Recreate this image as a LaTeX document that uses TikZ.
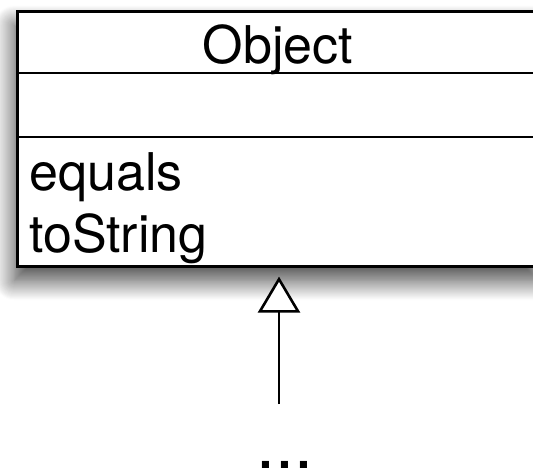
\documentclass[tikz,border=0pt]{standalone}
\usepackage{fontspec}
\setmainfont{TeX Gyre Heros}
\usetikzlibrary{arrows.meta,shadows.blur}

\tikzset{
  classbox/.style={draw=black, fill=white, line width=2.6pt, inner sep=0pt,
    minimum width=524pt, minimum height=255pt, anchor=north west,
    blur shadow={shadow xshift=-3pt, shadow yshift=-14pt,
      shadow blur radius=20pt, shadow blur steps=20, shadow opacity=75}},
  divider/.style={line width=2.6pt},
  label/.style={inner sep=0pt, font=\fontsize{52}{62}\selectfont},
  inherit/.style={line width=2.6pt,
    -{Triangle[fill=white, length=36pt, width=42pt, line width=2.6pt]}},
}

\begin{document}
\begin{tikzpicture}[x=1pt, y=-1pt]
  \useasboundingbox (0,0) rectangle (533,472);

  % class box with its three compartments
  \node[classbox] (cls) at (16,10) {};
  \draw[divider] (cls.west |- 0,73) -- (cls.east |- 0,73);
  \draw[divider] (cls.west |- 0,137) -- (cls.east |- 0,137);

  \node[label, anchor=base] (name) at (278,63) {Object};
  \node[label, anchor=base west] (op1) at (29,190) {equals};
  \node[label, anchor=base west] (op2) at (29,252) {toString};

  % subclasses, elided
  \node[inner sep=0pt, anchor=base, font=\fontsize{68}{80}\selectfont] (more) at (285,468) {...};

  % generalization arrow
  \coordinate (tail) at (279,404);
  \draw[inherit, shorten >=9pt] (tail) -- (tail |- cls.south);
\end{tikzpicture}
\end{document}
